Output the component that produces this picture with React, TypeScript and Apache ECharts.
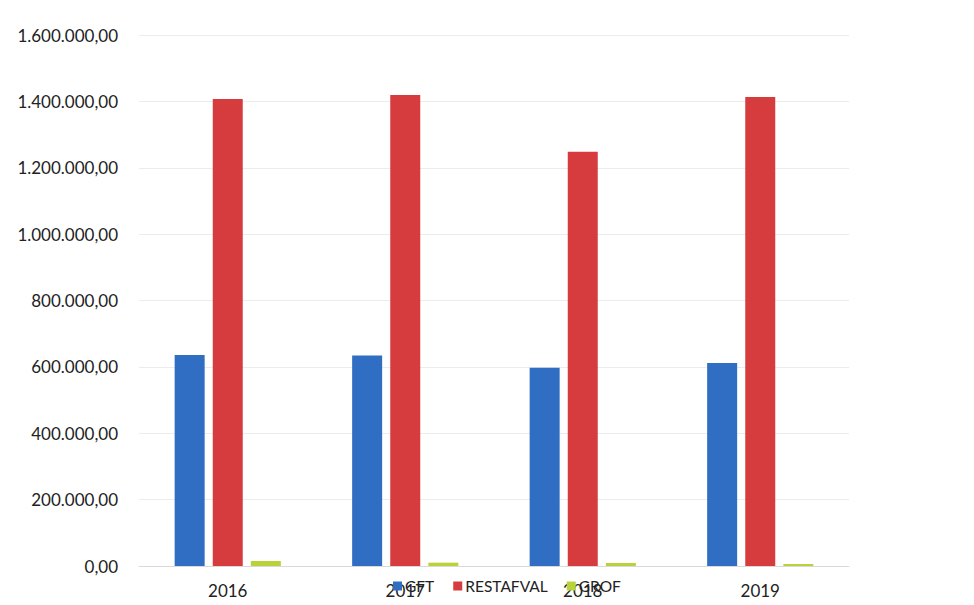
import React, { useEffect, useRef } from "react";
import * as echarts from "echarts";

const categories = ["2016", "2017", "2018", "2019"];
const gft = [636000, 634000, 597000, 612000];
const restafval = [1407000, 1419000, 1248000, 1413000];
const grof = [15000, 10000, 9000, 6000];
const seriesNames = ["GFT", "RESTAFVAL", "GROF"];

function fmt(v: number): string {
  const s = Math.round(v).toString().replace(/\B(?=(\d{3})+(?!\d))/g, ".");
  return s + ",00";
}

export default function App() {
  const ref = useRef<HTMLDivElement>(null);
  useEffect(() => {
    if (!ref.current) return;
    const chart = echarts.init(ref.current, undefined, { renderer: "svg" });
    const font = "Lato, 'Open Sans', sans-serif";
    chart.setOption({
      animation: false,
      backgroundColor: "#ffffff",
      textStyle: { fontFamily: font },
      grid: { left: 139, right: 125, top: 35, bottom: 39 },
      legend: {
        data: seriesNames,
        left: 388,
        top: 573,
        itemWidth: 9,
        itemHeight: 9,
        itemGap: 19,
        icon: "rect",
        textStyle: { fontSize: 15.5, color: "#222", fontFamily: font, padding: [0, 0, 0, -2] },
      },
      xAxis: {
        type: "category",
        data: categories,
        axisLine: { lineStyle: { color: "#d9d9d9" } },
        axisTick: { show: false },
        axisLabel: { fontSize: 17, color: "#222", margin: 16 },
      },
      yAxis: {
        type: "value",
        min: 0,
        max: 1600000,
        interval: 200000,
        axisLine: { show: false },
        axisTick: { show: false },
        splitLine: { lineStyle: { color: "#ececec" } },
        axisLabel: { fontSize: 17, color: "#222", margin: 21, formatter: (v: number) => fmt(v) },
      },
      series: [
        { name: "GFT", type: "bar", data: gft, barWidth: 30, barGap: "27%", itemStyle: { color: "#2f6ec2" } },
        { name: "RESTAFVAL", type: "bar", data: restafval, barWidth: 30, barGap: "27%", itemStyle: { color: "#d63c3e" } },
        { name: "GROF", type: "bar", data: grof, barWidth: 30, barGap: "27%", itemStyle: { color: "#b9d23a" } },
      ],
    });
    return () => chart.dispose();
  }, []);
  return <div ref={ref} style={{ width: 974, height: 605, position: "absolute", left: 0, top: 0 }} />;
}
